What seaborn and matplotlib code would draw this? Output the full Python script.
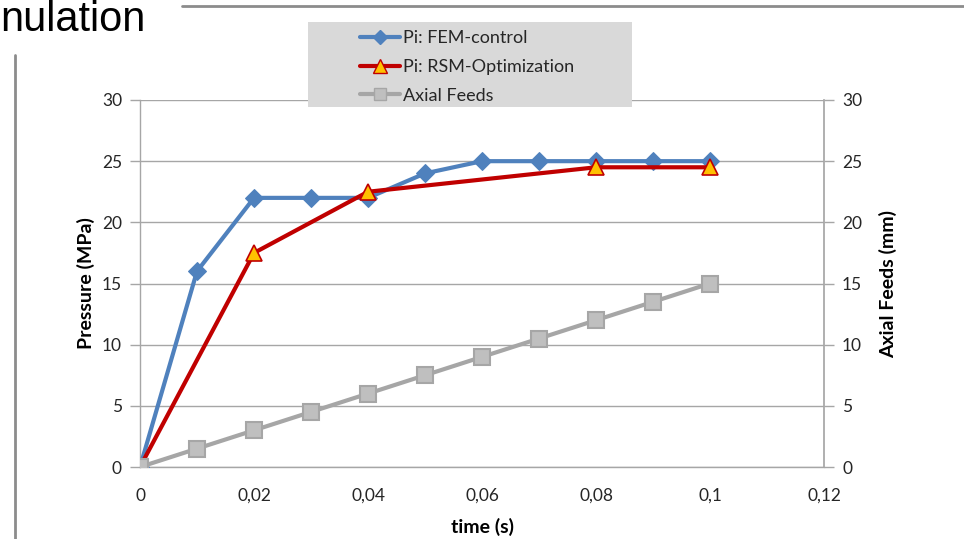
import numpy as np
import pandas as pd
import seaborn as sns
import matplotlib.pyplot as plt
from matplotlib.patches import Rectangle
from matplotlib.lines import Line2D

# ---- data ----
time_fem = [0, 0.01, 0.02, 0.03, 0.04, 0.05, 0.06, 0.07, 0.08, 0.09, 0.1]
p_fem = [0, 16, 22, 22, 22, 24, 25, 25, 25, 25, 25]
time_rsm = [0, 0.02, 0.04, 0.08, 0.1]
p_rsm = [0, 17.5, 22.5, 24.5, 24.5]
time_feed = [0, 0.01, 0.02, 0.03, 0.04, 0.05, 0.06, 0.07, 0.08, 0.09, 0.1]
axial_feed = [0, 1.5, 3, 4.5, 6, 7.5, 9, 10.5, 12, 13.5, 15]
series_labels = ["Pi: FEM-control", "Pi: RSM-Optimization", "Axial Feeds"]
x_ticks = [0, 0.02, 0.04, 0.06, 0.08, 0.1, 0.12]
x_tick_labels = ["0", "0,02", "0,04", "0,06", "0,08", "0,1", "0,12"]
y_ticks = [0, 5, 10, 15, 20, 25, 30]

sns.set_theme(style="white")
plt.rcParams['font.family'] = ['Lato', 'DejaVu Sans']

W, H = 964, 539
fig = plt.figure(figsize=(W / 100, H / 100), dpi=100)
ax = fig.add_axes([140 / W, 1 - 467 / H, (824 - 140) / W, (467 - 100) / H])

grid_c = '#A6A6A6'
blue = '#4F81BD'
red = '#C00000'
gold = '#FFC000'
gray_line = '#A6A6A6'
gray_fill = '#BFBFBF'

sns.lineplot(x=time_fem, y=p_fem, ax=ax, color=blue, lw=3, marker='D',
             markersize=9, markeredgecolor=blue, markerfacecolor=blue,
             legend=False, zorder=3)
sns.lineplot(x=time_rsm, y=p_rsm, ax=ax, color=red, lw=3, marker='^',
             markersize=12, markeredgecolor=red, markerfacecolor=gold,
             markeredgewidth=1.2, legend=False, zorder=4)

ax.set_xlim(0, 0.12)
ax.set_ylim(0, 30)
ax.set_xticks(x_ticks)
ax.set_xticklabels(x_tick_labels)
ax.set_yticks(y_ticks)
ax.yaxis.grid(True, color=grid_c, lw=1)
ax.xaxis.grid(False)
ax.set_axisbelow(True)
for s in ['top', 'right']:
    ax.spines[s].set_visible(False)
for s in ['left', 'bottom']:
    ax.spines[s].set_color(grid_c)
    ax.spines[s].set_linewidth(1)
ax.tick_params(axis='both', which='major', direction='out', color=grid_c,
               labelsize=12.5, labelcolor='#262626', width=1)
ax.tick_params(axis='y', length=7, pad=6)
ax.tick_params(axis='x', length=5, pad=10)
ax.set_xlabel("time (s)", fontsize=14, fontweight='bold', labelpad=10, color='#000000')
ax.set_ylabel("Pressure (MPa)", fontsize=14, fontweight='bold', labelpad=5, color='#000000')

ax2 = ax.twinx()
sns.lineplot(x=time_feed, y=axial_feed, ax=ax2, color=gray_line, lw=3, marker='s',
             markersize=11, markeredgecolor=gray_line, markerfacecolor=gray_fill,
             markeredgewidth=1.5, legend=False, zorder=3)
ax2.set_ylim(0, 30)
ax2.set_yticks(y_ticks)
ax2.grid(False)
for s in ['top', 'left', 'bottom']:
    ax2.spines[s].set_visible(False)
ax2.spines['right'].set_color(grid_c)
ax2.tick_params(axis='y', direction='out', color=grid_c, length=7, width=1,
                labelsize=12.5, labelcolor='#262626', pad=6)
ax2.set_ylabel("Axial Feeds (mm)", fontsize=14, fontweight='bold', labelpad=12, color='#000000')

# legend box
fig.patches.append(Rectangle((308 / W, 1 - 107 / H), (632 - 308) / W, (107 - 22) / H,
                             transform=fig.transFigure, facecolor='#D9D9D9',
                             edgecolor='none', zorder=4))
handles = [
    Line2D([], [], color=blue, lw=3, marker='D', markersize=7, markerfacecolor=blue, markeredgecolor=blue),
    Line2D([], [], color=red, lw=3, marker='^', markersize=10, markerfacecolor=gold, markeredgecolor=red),
    Line2D([], [], color=gray_line, lw=3, marker='s', markersize=9, markerfacecolor=gray_fill, markeredgecolor=gray_line),
]
leg = fig.legend(handles, series_labels, loc='center left',
                 bbox_to_anchor=(360 / W, 1 - 67 / H), frameon=False,
                 fontsize=13, handlelength=2.2, handletextpad=0.2,
                 labelspacing=0.7, borderpad=0, borderaxespad=0)
leg.set_zorder(6)

# slide decorations
fig.text(0, 1 - 31 / H, "nulation", fontsize=30, family=['Liberation Sans', 'DejaVu Sans'],
         ha='left', va='baseline', color='#000000')
fig.add_artist(Line2D([182 / W, 1.0], [1 - 6 / H, 1 - 6 / H], transform=fig.transFigure,
                      color='#8C8C8C', lw=2))
fig.add_artist(Line2D([14.5 / W, 14.5 / W], [0, 1 - 55 / H], transform=fig.transFigure,
                      color='#8C8C8C', lw=2))

fig.savefig("out.png", dpi=100)
